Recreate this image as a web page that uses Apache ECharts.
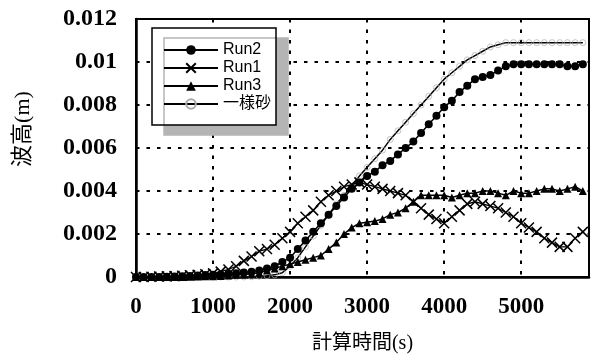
<!DOCTYPE html>
<html><head><meta charset="utf-8">
<script src="https://cdn.jsdelivr.net/npm/echarts@6/dist/echarts.min.js"></script>
<style>html,body{margin:0;padding:0;background:#fff}#c{width:598px;height:360px}</style>
</head><body><div id="c"></div>
<script>
const times = [0,100,200,300,400,500,600,700,800,900,1000,1100,1200,1300,1400,1500,1600,1700,1800,1900,2000,2100,2200,2300,2400,2500,2600,2700,2800,2900,3000,3100,3200,3300,3400,3500,3600,3700,3800,3900,4000,4100,4200,4300,4400,4500,4600,4700,4800,4900,5000,5100,5200,5300,5400,5500,5600,5700,5800];
const run2 = [0,0,0,0,0.00001,0.00002,0.00003,0.00005,0.00007,0.00009,0.0001,
  0.00012,0.00015,0.00018,0.00021,0.00025,0.0003,0.0004,0.0005,0.0007,0.0009,
  0.0013,0.0017,0.0021,0.0025,0.0029,0.0033,0.0037,0.0041,0.0044,0.0047,
  0.0049,0.0052,0.0054,0.0057,0.006,0.0063,0.0067,0.0071,0.0075,0.0079,
  0.0082,0.0086,0.0089,0.0092,0.0093,0.0094,0.0096,0.0098,0.0099,0.0099,
  0.0099,0.0099,0.0099,0.0099,0.0099,0.0098,0.0098,0.0099];
const run1 = [0,0,0.00001,0.00002,0.00003,0.00004,0.00006,0.00008,0.0001,0.00013,0.00017,
  0.00025,0.00035,0.0005,0.00075,0.00095,0.0012,0.0013,0.0015,0.0018,0.0021,
  0.0025,0.0028,0.0031,0.0035,0.0038,0.004,0.0042,0.0043,0.0044,0.0043,
  0.0042,0.0041,0.004,0.0039,0.0038,0.0035,0.0032,0.0029,0.0027,0.0025,
  0.0028,0.0031,0.0034,0.0035,0.0034,0.0033,0.0032,0.003,0.0028,0.0025,
  0.0023,0.0021,0.0018,0.0016,0.0014,0.0014,0.0018,0.0021];
const run3 = [0,0,0,0,0,0,0,0.00001,0.00002,0.00003,0.00004,
  0.00005,0.00007,0.0001,0.00012,0.00015,0.0002,0.0003,0.0004,0.0005,0.0006,
  0.0007,0.0008,0.0009,0.001,0.0013,0.0016,0.002,0.0023,0.0025,0.00255,
  0.0026,0.0027,0.0029,0.003,0.0032,0.0035,0.0038,0.0038,0.0038,0.0038,
  0.0037,0.0038,0.0039,0.0039,0.004,0.004,0.0039,0.0038,0.004,0.0039,
  0.0039,0.004,0.0041,0.0041,0.004,0.0041,0.0042,0.004];
const uniform = [0,0,0,0,0,0,0,0,0,0,0,
  0,0,0,0,0.00001,0.00003,0.00006,0.0001,0.0002,0.0005,
  0.0009,0.0014,0.0019,0.0024,0.0029,0.0034,0.0038,0.0042,0.0047,0.0051,
  0.0055,0.0059,0.0064,0.0068,0.0072,0.0076,0.008,0.0084,0.0088,0.0092,
  0.0095,0.0098,0.0101,0.0103,0.0105,0.0107,0.0108,0.0109,0.0109,0.0109,
  0.0109,0.0109,0.0109,0.0109,0.0109,0.0109,0.0109,0.0109];
const seriesNames = ['Run2','Run1','Run3','一様砂'];
const xTicks = [0,1000,2000,3000,4000,5000];

const pair = arr => times.map((t,i)=>[t,arr[i]]);
const chart = echarts.init(document.getElementById('c'), null, {renderer:'canvas'});
const gridLine = {show:true, lineStyle:{color:'#000', width:2, type:[3.5,7]}};
chart.setOption({
  animation:false,
  backgroundColor:'#fff',
  grid:{left:136,right:9,top:19,bottom:83,show:true,borderColor:'#000',borderWidth:2,backgroundColor:'transparent'},
  xAxis:{type:'value',min:0,max:5880,interval:1000,
    axisLine:{show:true,lineStyle:{color:'#000',width:2.5}},
    axisTick:{show:false},
    splitLine:gridLine,
    axisLabel:{margin:19,color:'#000',fontFamily:'Liberation Serif',fontWeight:'bold',fontSize:23,
      formatter:v=> xTicks.indexOf(v)>=0 ? String(v) : ''},
    name:'計算時間(s)',nameLocation:'middle',nameGap:57,
    nameTextStyle:{color:'#000',fontSize:20,fontFamily:'Liberation Serif, Noto Sans CJK JP'}
  },
  yAxis:{type:'value',min:0,max:0.012,interval:0.002,
    axisLine:{show:true,lineStyle:{color:'#000',width:2.5}},
    axisTick:{show:false},
    splitLine:gridLine,
    axisLabel:{margin:19,color:'#000',fontFamily:'Liberation Serif',fontWeight:'bold',fontSize:24}
  },
  legend:{
    orient:'vertical',left:152,top:28,
    data:seriesNames,
    itemWidth:54,itemHeight:12,itemGap:0,itemTextGap:11,
    padding:[13,5,12,11],
    backgroundColor:'#fff',borderColor:'#000',borderWidth:1.5,borderRadius:0,
    shadowColor:'#b4b4b4',shadowBlur:0,shadowOffsetX:12,shadowOffsetY:10,
    textStyle:{color:'#000',fontSize:16,lineHeight:18,fontFamily:'Liberation Sans, Noto Sans CJK JP'}
  },
  graphic:[{type:'text',x:23,y:129,rotation:Math.PI/2,
    style:{text:'波高(m)',fill:'#000',font:'22px "Liberation Serif", "Noto Sans CJK JP"',align:'center',verticalAlign:'middle'}}],
  series:[
    {name:'一様砂',type:'line',data:pair(uniform),symbol:'circle',symbolSize:6,
      itemStyle:{color:'rgba(255,255,255,0)',borderColor:'#aaa',borderWidth:0.7},
      lineStyle:{color:'#000',width:1.5},z:2},
    {name:'Run3',type:'line',data:pair(run3),symbol:'triangle',symbolSize:8,
      itemStyle:{color:'#000'},lineStyle:{color:'#000',width:1.5},z:3},
    {name:'Run1',type:'line',data:pair(run1),symbol:'path://M0,0L10,10M10,0L0,10',symbolSize:10,
      itemStyle:{color:'#000',borderColor:'#000',borderWidth:1.5},lineStyle:{color:'#000',width:1.3},z:4},
    {name:'Run2',type:'line',data:pair(run2),symbol:'circle',symbolSize:8,
      itemStyle:{color:'#000'},lineStyle:{color:'#000',width:1.5},z:5}
  ]
});
</script></body></html>
